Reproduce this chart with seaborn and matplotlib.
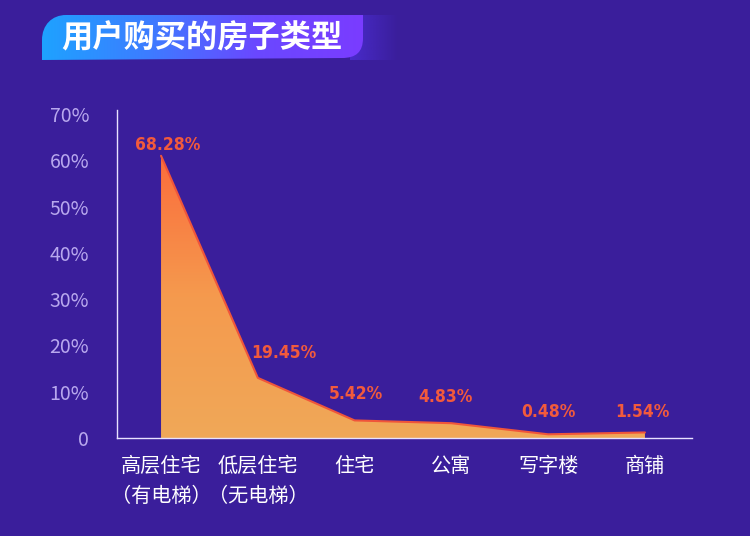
import numpy as np
import pandas as pd
import matplotlib
matplotlib.use("Agg")
import matplotlib.pyplot as plt
import seaborn as sns
from matplotlib.path import Path
from matplotlib.patches import PathPatch
from matplotlib.colors import LinearSegmentedColormap, to_rgb

# data
categories = ["高层住宅\n（有电梯）", "低层住宅\n（无电梯）", "住宅", "公寓", "写字楼", "商铺"]
share_labels = ["68.28%", "19.45%", "5.42%", "4.83%", "0.48%", "1.54%"]
plotted_height = [61.0, 13.0, 3.8, 3.2, 0.8, 1.2]   # heights as drawn in the picture (%)
y_ticks = [0, 10, 20, 30, 40, 50, 60, 70]
y_tick_labels = ["0", "10%", "20%", "30%", "40%", "50%", "60%", "70%"]
title = "用户购买的房子类型"

# little nudges for the value labels (points), like the reference
label_dx = [5, 19, 1, -4, 0, -2]
label_dy = [8, 18, 19, 19, 16, 15]

BG = "#3a1e9b"
sns.set_theme(style="white")
plt.rcParams['font.family'] = ['Noto Sans CJK SC', 'DejaVu Sans']

df = pd.DataFrame({"pos": np.arange(len(categories)), "h": plotted_height})

fig = plt.figure(figsize=(7.5, 5.36), dpi=100, facecolor=BG)
ax = fig.add_axes([117 / 750, 1 - 438 / 536, 575 / 750, 328 / 536])
ax.set_facecolor(BG)

# gradient-filled area
poly = ax.fill_between(df["pos"], df["h"], 0, color="none", lw=0)
cmap = LinearSegmentedColormap.from_list("fill", ["#f0a858", "#f59a4e", "#fb6c3c"])
grad = np.linspace(0, 1, 256).reshape(-1, 1)
img = ax.imshow(grad, cmap=cmap, origin="lower", aspect="auto",
                extent=[0, len(categories) - 1, 0, max(plotted_height)], zorder=1)
img.set_clip_path(poly.get_paths()[0], transform=ax.transData)
sns.lineplot(data=df, x="pos", y="h", ax=ax, color="#f0553a", lw=1.5, zorder=2)

for x, h, lab, dx, dy in zip(df["pos"], df["h"], share_labels, label_dx, label_dy):
    ax.annotate(lab, (x, h), xytext=(dx, dy), textcoords="offset points",
                ha="center", va="center", color="#f25a3c", fontsize=12.5,
                fontweight="bold", fontstretch="condensed", family="DejaVu Sans")

ax.set_xlim(-0.455, 5.486)
ax.set_ylim(0, 70.9)
ax.set_yticks(y_ticks)
ax.set_yticklabels(y_tick_labels, color="#b8a8ee", fontsize=14)
ax.set_xticks(df["pos"])
ax.set_xticklabels(categories, color="white", fontsize=14.5, linespacing=1.55, va="top")
ax.tick_params(axis="both", length=0)
ax.tick_params(axis="y", pad=20)
ax.tick_params(axis="x", pad=13)
ax.set_xlabel("")
ax.set_ylabel("")
for s in ["top", "right"]:
    ax.spines[s].set_visible(False)
for s in ["left", "bottom"]:
    ax.spines[s].set_color("#e8e2ff")
    ax.spines[s].set_linewidth(1.0)

# title banner
bax = fig.add_axes([0, 0, 1, 1], zorder=5)
bax.axis("off")
fade_rgba = np.zeros((1, 256, 4))
fade_rgba[..., :3] = to_rgb("#4b2dd0")
fade_rgba[..., 3] = np.linspace(0.9, 0.0, 256)
bax.imshow(fade_rgba, aspect="auto", extent=[350, 398, 60, 15])
verts = [(42, 60), (42, 40), (42, 25), (52, 15), (66, 15), (363, 15), (363, 38),
         (363, 52), (356, 58), (342, 58), (42, 60)]
codes = [Path.MOVETO, Path.LINETO, Path.CURVE4, Path.CURVE4, Path.CURVE4, Path.LINETO,
         Path.LINETO, Path.CURVE4, Path.CURVE4, Path.CURVE4, Path.CLOSEPOLY]
shape = PathPatch(Path(verts, codes), facecolor="none", edgecolor="none")
bax.add_patch(shape)
bcmap = LinearSegmentedColormap.from_list("banner", ["#1ea2ff", "#3d7cff", "#6a48ff", "#7a3cff"])
bimg = bax.imshow(np.linspace(0, 1, 256).reshape(1, -1), cmap=bcmap, aspect="auto",
                  extent=[42, 363, 60, 15])
bimg.set_clip_path(shape)
bax.set_xlim(0, 750)
bax.set_ylim(536, 0)
bax.text(61, 38, title, color="white", fontsize=22.5, fontweight="bold",
         va="center", ha="left")

fig.savefig("out.png", dpi=100, facecolor=BG)
